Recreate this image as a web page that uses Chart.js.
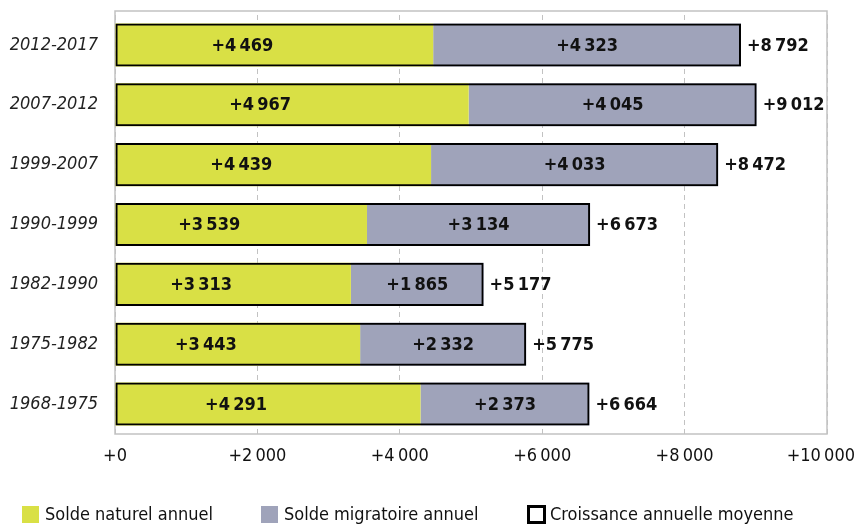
<!DOCTYPE html>
<html>
<head>
<meta charset="utf-8">
<script src="https://cdn.jsdelivr.net/npm/chart.js@4.4.0/dist/chart.umd.min.js"></script>
<style>
  html, body { margin: 0; padding: 0; background: #fff; }
  #wrap { width: 856px; height: 526px; }
</style>
</head>
<body>
<div id="wrap"><canvas id="barChart"></canvas></div>
<script>
var periodes = ['2012-2017', '2007-2012', '1999-2007', '1990-1999', '1982-1990', '1975-1982', '1968-1975'];
var soldeNaturel = [4469, 4967, 4439, 3539, 3313, 3443, 4291];
var soldeMigratoire = [4323, 4045, 4033, 3134, 1865, 2332, 2373];
var croissance = [8792, 9012, 8472, 6673, 5177, 5775, 6664];
var xTicks = [0, 2000, 4000, 6000, 8000, 10000];

var narrow = "'Liberation Sans Narrow', 'DejaVu Sans Condensed', 'Arial Narrow', sans-serif";

// format "+4 469"
function fmt(v) {
    var s = String(Math.abs(v));
    var out = '';
    while (s.length > 3) {
        out = '\u2009' + s.slice(-3) + out;
        s = s.slice(0, -3);
    }
    return '+' + s + out;
}

// etiquettes des barres
var labelsPlugin = {
    id: 'barLabels',
    afterDatasetsDraw: function (chart) {
        var ctx = chart.ctx;
        ctx.save();
        ctx.font = 'bold 18px ' + narrow;
        ctx.fillStyle = '#111';
        ctx.textBaseline = 'middle';
        for (var d = 0; d < 3; d++) {
            var meta = chart.getDatasetMeta(d);
            var vals = chart.data.datasets[d].data;
            for (var i = 0; i < meta.data.length; i++) {
                var bar = meta.data[i];
                if (d == 2) {
                    ctx.textAlign = 'left';
                    ctx.fillText(fmt(vals[i]), bar.x + 6, bar.y + 1);
                } else {
                    var mid = (bar.x + bar.base) / 2;
                    if (d == 0) mid -= 32;
                    ctx.textAlign = 'center';
                    ctx.fillText(fmt(vals[i]), mid, bar.y + 1);
                }
            }
        }
        ctx.restore();
    }
};

// cadre gris + graduations de l'axe x
var framePlugin = {
    id: 'frame',
    beforeDatasetsDraw: function (chart) {
        var a = chart.chartArea;
        var ctx = chart.ctx;
        ctx.save();
        ctx.strokeStyle = '#c2c2c2';
        ctx.lineWidth = 1.5;
        ctx.strokeRect(a.left, a.top - 4, a.right - a.left, a.bottom - a.top + 4);
        ctx.restore();
    },
    afterDraw: function (chart) {
        var a = chart.chartArea;
        var ctx = chart.ctx;
        var xs = chart.scales.x;
        ctx.save();
        ctx.font = '18px ' + narrow;
        ctx.fillStyle = '#111';
        ctx.textAlign = 'center';
        ctx.textBaseline = 'middle';
        for (var i = 0; i < xTicks.length; i++) {
            var txt = fmt(xTicks[i]);
            var px = xs.getPixelForValue(xTicks[i]);
            var w = ctx.measureText(txt).width;
            if (px + w / 2 > chart.width - 1) px = chart.width - 1 - w / 2;
            ctx.fillText(txt, px, a.bottom + 22);
        }

        // legende
        var lx = [22, 261, 527];
        ctx.textAlign = 'left';
        for (var d = 0; d < chart.data.datasets.length; d++) {
            var ds = chart.data.datasets[d];
            if (d == 2) {
                ctx.fillStyle = '#fff';
                ctx.fillRect(lx[d], 506, 18, 17);
                ctx.strokeStyle = '#000';
                ctx.lineWidth = 3;
                ctx.strokeRect(lx[d] + 1.5, 506.5, 16, 16);
            } else {
                ctx.fillStyle = ds.backgroundColor;
                ctx.fillRect(lx[d], 506, 17, 17);
            }
            ctx.fillStyle = '#111';
            ctx.fillText(ds.label, lx[d] + 23, 515);
        }
        ctx.restore();
    }
};

const bar = document.getElementById('barChart');

new Chart(bar, {
    type: 'bar',
    data: {
        labels: periodes,
        datasets: [{
            label: 'Solde naturel annuel',
            data: soldeNaturel,
            backgroundColor: '#d9e045',
            borderWidth: 0,
            stack: 'a',
            order: 1,
            barPercentage: 0.72,
            categoryPercentage: 1
        }, {
            label: 'Solde migratoire annuel',
            data: soldeMigratoire,
            backgroundColor: '#9fa3ba',
            borderWidth: 0,
            stack: 'a',
            order: 1,
            barPercentage: 0.72,
            categoryPercentage: 1
        }, {
            label: 'Croissance annuelle moyenne',
            data: croissance,
            backgroundColor: 'rgba(0,0,0,0)',
            borderColor: '#000',
            borderWidth: 2,
            borderSkipped: false,
            stack: 'b',
            order: 0,
            grouped: false,
            barPercentage: 0.72,
            categoryPercentage: 1
        }]
    },
    options: {
        indexAxis: 'y',
        responsive: true,
        maintainAspectRatio: false,
        animation: false,
        layout: {
            padding: { left: 6, right: 29, top: 15, bottom: 92 }
        },
        scales: {
            x: {
                stacked: true,
                min: 0,
                max: 10000,
                afterBuildTicks: function (axis) {
                    axis.ticks = xTicks.map(function (v) { return { value: v }; });
                },
                afterFit: function (axis) {
                    axis.height = 0;
                    axis.paddingLeft = 0;
                    axis.paddingRight = 0;
                },
                grid: {
                    color: '#c2c2c2',
                    lineWidth: 1,
                    drawTicks: false
                },
                border: { display: false, dash: [5, 4] },
                ticks: { display: false }
            },
            y: {
                stacked: true,
                grid: { display: false, drawTicks: false },
                border: { display: false },
                afterFit: function (axis) {
                    axis.width = 109;
                    axis.paddingTop = 0;
                    axis.paddingBottom = 0;
                },
                ticks: {
                    padding: 17,
                    color: '#222',
                    font: { family: narrow, size: 18, style: 'italic' }
                }
            }
        },
        plugins: {
            legend: { display: false },
            tooltip: { enabled: false }
        }
    },
    plugins: [framePlugin, labelsPlugin]
});
</script>
</body>
</html>
